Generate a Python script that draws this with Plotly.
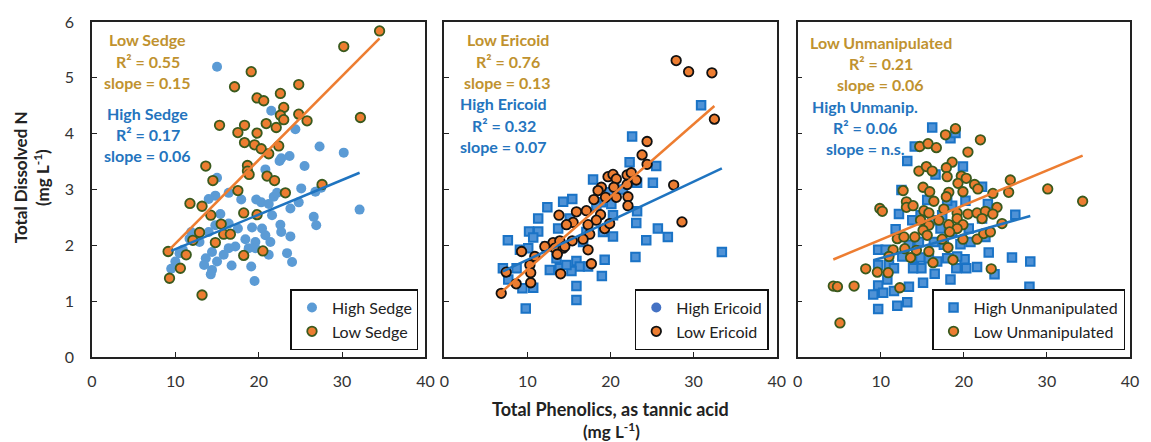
import plotly.graph_objects as go

# ---------------- data ----------------
x_ticks = [0, 10, 20, 30, 40]
y_ticks = [0, 1, 2, 3, 4, 5, 6]

# Panel 1: Sedge
sedge_high_x = [15.0, 21.5, 24.4, 27.3, 30.2, 23.7, 22.5, 22.7, 25.5, 15.0, 20.8, 25.1, 26.8, 32.1, 21.8, 22.2,
                24.8, 23.8, 19.7, 20.3, 21.2, 17.9, 16.4, 14.8, 14.0, 15.4, 21.6, 26.6, 26.9, 22.6, 22.7, 23.8,
                20.4, 19.2, 20.8, 21.4, 19.6, 18.4, 17.5, 16.4, 14.8, 14.0, 11.9, 11.7, 12.9, 17.2, 16.4, 18.8,
                19.6, 23.4, 21.2, 24.0, 15.8, 14.4, 13.65, 13.45, 15.0, 14.4, 14.25, 16.75, 19.1, 19.5, 10.0, 9.5,
                10.9, 10.5, 27.5]
sedge_high_y = [5.20, 4.41, 4.08, 3.77, 3.66, 3.60, 3.51, 3.56, 3.42, 3.21, 3.36, 3.02, 2.96, 2.64, 2.87, 2.94,
                2.77, 2.66, 2.82, 2.77, 2.74, 2.82, 2.94, 2.89, 2.83, 2.56, 2.54, 2.51, 2.36, 2.37, 2.24, 2.16,
                2.30, 2.32, 2.18, 2.06, 2.06, 2.11, 2.30, 2.39, 2.36, 2.24, 2.24, 2.12, 2.06, 1.98, 1.95, 1.95,
                1.95, 1.86, 1.83, 1.70, 1.83, 1.88, 1.77, 1.65, 1.71, 1.56, 1.48, 1.64, 1.62, 1.36, 1.71, 1.58,
                1.92, 1.86, 3.03]
sedge_low_x = [34.5, 30.2, 19.1, 17.1, 24.8, 22.6, 19.8, 20.6, 23.0, 22.6, 23.0, 24.8, 25.8, 20.9, 22.1, 15.3,
               18.3, 17.5, 19.8, 18.3, 19.5, 20.3, 22.4, 21.2, 32.2, 13.65, 18.65, 18.65, 18.85, 14.5, 21.0, 21.9,
               27.6, 17.5, 23.2, 11.75, 13.2, 14.25, 18.2, 19.8, 15.5, 12.9, 12.1, 15.8, 16.6, 14.8, 9.13, 11.3,
               18.2, 20.5, 10.6, 9.3, 13.2]
sedge_low_y = [5.84, 5.56, 5.11, 4.84, 4.88, 4.72, 4.64, 4.59, 4.47, 4.33, 4.25, 4.35, 4.23, 4.18, 4.11, 4.15,
               4.15, 4.02, 4.01, 3.84, 3.80, 3.73, 3.78, 3.64, 4.29, 3.42, 3.43, 3.33, 3.27, 3.16, 3.24, 3.16,
               3.09, 2.98, 2.94, 2.75, 2.70, 2.54, 2.58, 2.55, 2.38, 2.23, 2.09, 2.20, 2.20, 2.05, 1.89, 1.83,
               1.82, 1.90, 1.59, 1.41, 1.11]
sedge_high_fit = [0.062, 1.31]   # slope, intercept
sedge_low_fit = [0.15, 0.53]

# Panel 2: Ericoid
ericoid_high_x = [30.9, 22.6, 22.3, 25.5, 25.1, 17.9, 23.2, 14.3, 15.4, 12.4, 11.3, 18.9, 20.1, 23.2, 20.3, 23.1,
                  25.7, 26.9, 24.3, 20.3, 19.1, 33.4, 23.0, 19.3, 18.96, 15.9, 15.9, 9.8, 7.65, 10.2, 11.3, 10.7,
                  13.7, 15.1, 17.1, 16.7, 15.9, 16.3, 17.3, 12.7, 13.9, 15.3, 14.7, 9.1, 10.1, 8.7, 7.05, 7.7,
                  9.4, 10.7, 12.3, 13.5, 21.5, 19.9, 18.3]
ericoid_high_y = [4.51, 3.95, 3.49, 3.42, 3.12, 3.18, 3.12, 2.78, 2.83, 2.68, 2.48, 2.77, 2.74, 2.61, 2.54, 2.40,
                  2.30, 2.15, 2.09, 2.16, 2.24, 1.88, 1.79, 1.74, 1.45, 1.27, 1.02, 0.87, 2.09, 2.25, 2.25, 2.14,
                  2.30, 2.48, 2.24, 2.06, 1.72, 1.62, 1.62, 1.56, 1.59, 1.54, 1.65, 1.92, 1.95, 1.59, 1.59, 1.39,
                  1.23, 1.24, 1.98, 1.77, 3.00, 2.95, 2.71]
ericoid_low_x = [27.9, 29.4, 32.2, 32.5, 24.4, 23.8, 24.4, 27.6, 28.6, 22.0, 22.5, 23.1, 22.0, 19.7, 20.3, 20.7,
                 18.9, 18.5, 20.4, 19.4, 20.7, 18.0, 22.1, 22.1, 17.1, 15.9, 13.8, 18.8, 18.3, 17.3, 15.5, 14.7,
                 19.3, 19.9, 17.5, 16.7, 15.4, 13.1, 13.9, 12.1, 13.3, 14.3, 13.6, 14.5, 17.3, 17.7, 10.9, 9.3,
                 10.3, 10.4, 10.4, 7.45, 8.65, 6.85, 14.0]
ericoid_low_y = [5.31, 5.11, 5.09, 4.26, 3.86, 3.62, 3.45, 3.08, 2.42, 3.26, 3.30, 3.17, 3.09, 3.23, 3.27, 3.19,
                 3.04, 2.98, 3.04, 2.86, 2.86, 2.82, 2.87, 2.71, 2.62, 2.60, 2.54, 2.55, 2.45, 2.37, 2.41, 2.37,
                 2.30, 2.39, 2.20, 2.11, 2.08, 2.05, 2.08, 1.98, 1.95, 1.95, 1.84, 1.98, 1.92, 1.67, 1.80, 1.89,
                 1.65, 1.51, 1.33, 1.52, 1.31, 1.14, 1.49]
ericoid_high_fit = [0.07, 1.04]
ericoid_low_fit = [0.13, 0.27]

# Panel 3: Unmanipulated
unmanip_high_x = [16.2, 18.4, 19.0, 14.1, 13.2, 16.6, 19.9, 22.2, 12.5, 12.2, 11.8, 22.9, 26.2, 28.0, 27.9, 25.8,
                  23.0, 23.7, 21.6, 20.3, 20.1, 19.1, 18.4, 16.5, 15.1, 14.9, 13.9, 13.4, 13.2, 12.0, 9.7, 9.1,
                  9.7, 10.3, 11.6, 10.8, 9.7, 9.7, 10.6, 11.0, 11.6, 12.6, 14.0, 14.8, 15.8, 16.8, 18.0, 19.2,
                  13.4, 14.6, 16.4, 17.6, 19.6, 20.8, 22.6, 13.8, 14.8, 16.2, 17.4, 18.6, 20.2, 22.2, 20.6, 18.6,
                  17.2, 15.6, 18.0]
unmanip_high_y = [4.11, 3.92, 4.01, 3.77, 3.51, 3.27, 3.41, 3.05, 2.99, 2.56, 2.29, 2.74, 2.55, 1.71, 1.26, 1.78,
                  1.87, 1.48, 1.61, 1.59, 1.75, 1.59, 1.39, 1.49, 1.33, 1.59, 1.59, 1.26, 0.98, 0.92, 0.86, 1.12,
                  1.28, 1.15, 1.18, 1.39, 1.65, 1.92, 1.92, 1.65, 1.59, 1.80, 1.77, 1.78, 1.77, 1.71, 1.77, 1.80,
                  2.01, 2.06, 2.06, 2.01, 2.02, 2.06, 2.15, 2.45, 2.54, 2.45, 2.54, 2.71, 2.80, 2.48, 2.30, 2.24,
                  2.30, 2.81, 2.80]
unmanip_low_x = [19.0, 17.8, 22.0, 14.7, 15.7, 16.7, 20.5, 18.6, 14.6, 15.5, 16.2, 17.9, 18.0, 19.7, 20.3, 19.3,
                 21.3, 21.7, 25.6, 30.1, 34.3, 23.5, 25.4, 15.1, 15.9, 12.7, 18.2, 19.9, 17.9, 16.4, 13.1, 13.1,
                 13.9, 9.9, 10.2, 15.2, 15.8, 17.6, 19.2, 20.5, 21.6, 22.6, 24.0, 23.5, 22.2, 19.2, 17.0, 14.8,
                 19.9, 18.2, 15.8, 24.6, 19.2, 18.3, 15.1, 14.1, 15.6, 12.0, 12.8, 17.4, 19.9, 21.6, 22.4, 23.2,
                 11.5, 12.9, 14.3, 15.8, 18.1, 11.0, 13.6, 16.3, 18.7, 8.2, 9.6, 10.9, 23.3, 4.3, 4.8, 6.8,
                 12.3, 5.1]
unmanip_low_y = [4.09, 3.98, 3.89, 3.77, 3.82, 3.75, 3.67, 3.49, 3.33, 3.41, 3.33, 3.39, 3.23, 3.24, 3.20, 3.11,
                 3.09, 3.01, 3.17, 3.01, 2.79, 2.93, 2.95, 3.04, 2.96, 2.98, 2.95, 2.96, 2.87, 2.79, 2.78, 2.68,
                 2.71, 2.66, 2.61, 2.62, 2.58, 2.65, 2.58, 2.56, 2.58, 2.61, 2.68, 2.56, 2.48, 2.48, 2.45, 2.45,
                 2.37, 2.37, 2.36, 2.39, 2.30, 2.24, 2.27, 2.15, 2.18, 2.12, 2.15, 2.11, 2.11, 2.11, 2.21, 2.24,
                 1.92, 1.94, 1.91, 1.89, 1.96, 1.80, 1.78, 1.69, 1.74, 1.58, 1.52, 1.51, 1.58, 1.27, 1.26, 1.27,
                 1.24, 0.61]
unmanip_high_fit = [0.042, 1.35]
unmanip_low_fit = [0.062, 1.48]

# ---------------- styling ----------------
FONT = "Lato"
ORANGE = "#ED7D31"
LIGHTBLUE = "#5B9BD5"
SQ_FILL = "#4F92D6"
SQ_LINE = "#1A73C6"
LINE_BLUE = "#1F74C0"
GREEN = "#3A5A1E"
TXT_LOW = "#C0922F"
TXT_HIGH = "#2474BE"

W, H = 1151, 442
ML, MR, MT, MB = 92, 13, 17, 85
PW = W - ML - MR
PH = H - MT - MB

def px_x(p):
    return (p - ML) / PW

def px_y(p):
    return (H - MB - p) / PH

domains = [[0.0, px_x(428)], [px_x(447), px_x(782)], [px_x(803), 1.0]]

fig = go.Figure()

def fit_line(xs, fit):
    lo, hi = min(xs), max(xs)
    return [lo, hi], [fit[1] + fit[0] * lo, fit[1] + fit[0] * hi]

panels = [
    dict(hx=sedge_high_x, hy=sedge_high_y, lx=sedge_low_x, ly=sedge_low_y,
         hfit=sedge_high_fit, lfit=sedge_low_fit, hname="High Sedge", lname="Low Sedge",
         hmarker=dict(symbol="circle", size=10, color=LIGHTBLUE, line=dict(width=0)),
         legmarker=None, loutline=GREEN),
    dict(hx=ericoid_high_x, hy=ericoid_high_y, lx=ericoid_low_x, ly=ericoid_low_y,
         hfit=ericoid_high_fit, lfit=ericoid_low_fit, hname="High Ericoid", lname="Low Ericoid",
         hmarker=dict(symbol="square", size=8.5, color=SQ_FILL, line=dict(width=2, color=SQ_LINE)),
         legmarker=dict(symbol="circle", size=10, color="#4472C4", line=dict(width=0)), loutline="#111111"),
    dict(hx=unmanip_high_x, hy=unmanip_high_y, lx=unmanip_low_x, ly=unmanip_low_y,
         hfit=unmanip_high_fit, lfit=unmanip_low_fit, hname="High Unmanipulated", lname="Low Unmanipulated",
         hmarker=dict(symbol="square", size=8.5, color=SQ_FILL, line=dict(width=2, color=SQ_LINE)),
         legmarker=None, loutline=GREEN),
]

legend_names = ["legend", "legend2", "legend3"]
for i, p in enumerate(panels):
    xa = "x" if i == 0 else f"x{i+1}"
    ya = "y" if i == 0 else f"y{i+1}"
    lg = legend_names[i]
    fig.add_trace(go.Scatter(x=p["hx"], y=p["hy"], mode="markers", name=p["hname"],
                             marker=p["hmarker"], xaxis=xa, yaxis=ya, legend=lg,
                             showlegend=p["legmarker"] is None))
    if p["legmarker"] is not None:
        fig.add_trace(go.Scatter(x=[None], y=[None], mode="markers", name=p["hname"],
                                 marker=p["legmarker"], xaxis=xa, yaxis=ya, legend=lg))
    fig.add_trace(go.Scatter(x=p["lx"], y=p["ly"], mode="markers", name=p["lname"],
                             marker=dict(symbol="circle", size=9.5, color=ORANGE,
                                         line=dict(width=1.8, color=p["loutline"])),
                             xaxis=xa, yaxis=ya, legend=lg))
    lx_, ly_ = fit_line(p["hx"], p["hfit"])
    fig.add_trace(go.Scatter(x=lx_, y=ly_, mode="lines", line=dict(color=LINE_BLUE, width=2.5),
                             showlegend=False, xaxis=xa, yaxis=ya, hoverinfo="skip"))
    lx_, ly_ = fit_line(p["lx"], p["lfit"])
    fig.add_trace(go.Scatter(x=lx_, y=ly_, mode="lines", line=dict(color=ORANGE, width=2.5),
                             showlegend=False, xaxis=xa, yaxis=ya, hoverinfo="skip"))

axis_common = dict(showline=True, mirror=True, linecolor="#222222", linewidth=1.6,
                   ticks="inside", ticklen=5, tickwidth=1.4, tickcolor="#222222",
                   showgrid=False, zeroline=False,
                   tickfont=dict(family=FONT, size=16, color="#333333"))

layout = dict(
    width=W, height=H,
    margin=dict(l=ML, r=MR, t=MT, b=MB),
    paper_bgcolor="white", plot_bgcolor="white",
    font=dict(family=FONT, color="#222222"),
)
for i in range(3):
    xk = "xaxis" if i == 0 else f"xaxis{i+1}"
    yk = "yaxis" if i == 0 else f"yaxis{i+1}"
    layout[xk] = dict(axis_common, domain=domains[i], range=[0, 40], tickvals=x_ticks,
                      anchor="y" if i == 0 else f"y{i+1}", ticklabelstandoff=9)
    layout[yk] = dict(axis_common, domain=[0, 1], range=[0, 6], tickvals=y_ticks,
                      anchor="x" if i == 0 else f"x{i+1}", showticklabels=(i == 0),
                      ticklabelstandoff=13)

leg_right = [px_x(421), px_x(774), px_x(1133)]
for i, lg in enumerate(legend_names):
    layout[lg] = dict(x=leg_right[i], y=px_y(350), xanchor="right", yanchor="bottom",
                      bgcolor="white", bordercolor="#111111", borderwidth=1.5,
                      font=dict(family=FONT, size=16, color="#222222"),
                      itemwidth=30, tracegroupgap=0, traceorder="normal")
fig.update_layout(**layout)

# panel annotations
texts = [
    (148, ["Low Sedge", "R² = 0.55", "slope = 0.15"], 148, ["High Sedge", "R² = 0.17", "slope = 0.06"], [35, 57, 78], [110, 131, 152]),
    (511, ["Low Ericoid", "R² = 0.76", "slope = 0.13"], 507, ["High Ericoid", "R² = 0.32", "slope = 0.07"], [35, 57, 78], [100, 122, 143]),
    (887, ["Low Unmanipulated", "R² = 0.21", "slope = 0.06"], 871, ["High Unmanip.", "R² = 0.06", "slope = n.s."], [38, 59, 80], [103, 124, 145]),
]
for cxl, ltxt, cxh, htxt, lys, hys in texts:
    for t, yy in zip(ltxt, lys):
        fig.add_annotation(x=px_x(cxl), y=px_y(yy), xref="paper", yref="paper", text=f"<b>{t}</b>",
                           showarrow=False, xanchor="center", yanchor="middle",
                           font=dict(family=FONT, size=16, color=TXT_LOW))
    for t, yy in zip(htxt, hys):
        fig.add_annotation(x=px_x(cxh), y=px_y(yy), xref="paper", yref="paper", text=f"<b>{t}</b>",
                           showarrow=False, xanchor="center", yanchor="middle",
                           font=dict(family=FONT, size=16, color=TXT_HIGH))

# axis titles
fig.add_annotation(x=px_x(614), y=px_y(410), xref="paper", yref="paper",
                   text="<b>Total Phenolics, as tannic acid</b>", showarrow=False,
                   xanchor="center", yanchor="middle", font=dict(family=FONT, size=18, color="#222222"))
fig.add_annotation(x=px_x(616), y=px_y(432), xref="paper", yref="paper",
                   text="<b>(mg L<sup>-1</sup>)</b>", showarrow=False,
                   xanchor="center", yanchor="middle", font=dict(family=FONT, size=17, color="#222222"))
fig.add_annotation(x=px_x(20), y=px_y(175), xref="paper", yref="paper",
                   text="<b>Total Dissolved N</b>", showarrow=False, textangle=-90,
                   xanchor="center", yanchor="middle", font=dict(family=FONT, size=17, color="#222222"))
fig.add_annotation(x=px_x(41), y=px_y(175), xref="paper", yref="paper",
                   text="<b>(mg L<sup>-1</sup>)</b>", showarrow=False, textangle=-90,
                   xanchor="center", yanchor="middle", font=dict(family=FONT, size=17, color="#222222"))

fig.write_html("out.html")
